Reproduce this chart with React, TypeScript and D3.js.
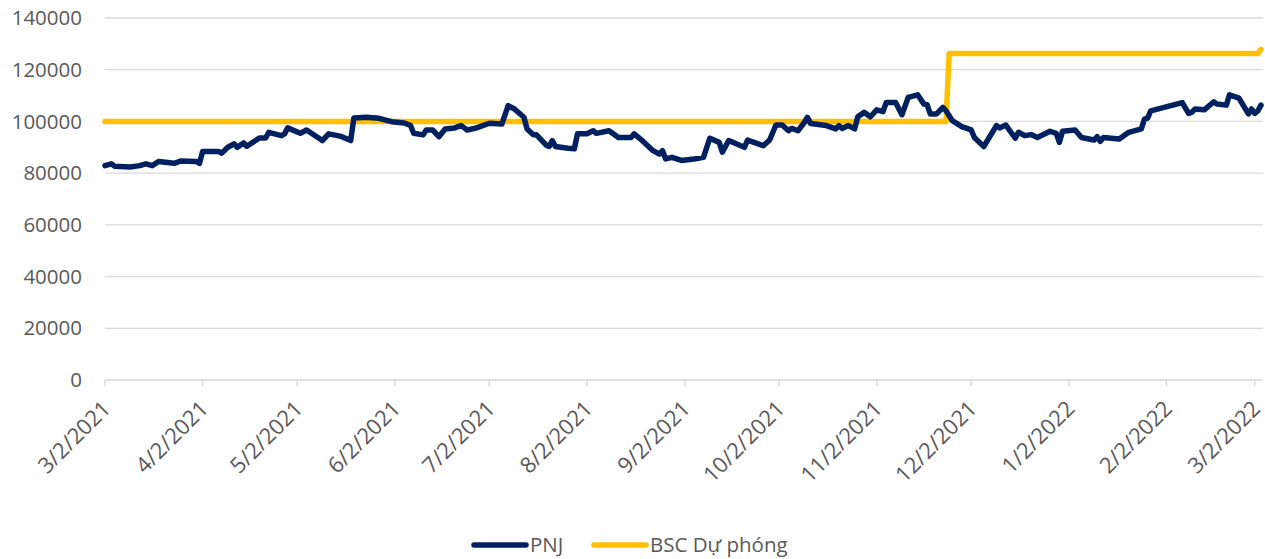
import React from "react";
import * as d3 from "d3";

const pnjDates: string[] = [
  "2021-03-02","2021-03-04","2021-03-05","2021-03-10","2021-03-13","2021-03-15","2021-03-17","2021-03-19","2021-03-24","2021-03-26",
  "2021-03-31","2021-04-01","2021-04-02","2021-04-07","2021-04-08","2021-04-10","2021-04-12","2021-04-13","2021-04-15","2021-04-16",
  "2021-04-20","2021-04-22","2021-04-23","2021-04-27","2021-04-28","2021-04-29","2021-05-03","2021-05-05","2021-05-10","2021-05-12",
  "2021-05-16","2021-05-19","2021-05-20","2021-05-24","2021-05-28","2021-06-01","2021-06-05","2021-06-07","2021-06-08","2021-06-11",
  "2021-06-12","2021-06-14","2021-06-16","2021-06-18","2021-06-21","2021-06-23","2021-06-25","2021-06-28","2021-07-02","2021-07-06",
  "2021-07-08","2021-07-10","2021-07-13","2021-07-14","2021-07-16","2021-07-17","2021-07-20","2021-07-21","2021-07-22","2021-07-23",
  "2021-07-27","2021-07-29","2021-07-30","2021-08-02","2021-08-04","2021-08-05","2021-08-09","2021-08-12","2021-08-16","2021-08-17",
  "2021-08-19","2021-08-23","2021-08-25","2021-08-26","2021-08-27","2021-08-29","2021-09-01","2021-09-05","2021-09-08","2021-09-10",
  "2021-09-13","2021-09-14","2021-09-16","2021-09-21","2021-09-22","2021-09-27","2021-09-29","2021-10-01","2021-10-03","2021-10-05",
  "2021-10-06","2021-10-08","2021-10-10","2021-10-11","2021-10-12","2021-10-17","2021-10-20","2021-10-21","2021-10-22","2021-10-24",
  "2021-10-26","2021-10-27","2021-10-29","2021-10-31","2021-11-02","2021-11-04","2021-11-05","2021-11-08","2021-11-10","2021-11-12",
  "2021-11-15","2021-11-17","2021-11-18","2021-11-19","2021-11-21","2021-11-23","2021-11-24","2021-11-26","2021-11-29","2021-12-02",
  "2021-12-03","2021-12-06","2021-12-10","2021-12-11","2021-12-13","2021-12-16","2021-12-17","2021-12-19","2021-12-21","2021-12-23",
  "2021-12-27","2021-12-29","2021-12-30","2021-12-31","2022-01-04","2022-01-06","2022-01-10","2022-01-11","2022-01-12","2022-01-13",
  "2022-01-18","2022-01-21","2022-01-25","2022-01-26","2022-01-27","2022-01-28","2022-02-07","2022-02-09","2022-02-10","2022-02-11",
  "2022-02-14","2022-02-17","2022-02-18","2022-02-21","2022-02-22","2022-02-25","2022-02-28","2022-03-01","2022-03-02","2022-03-03",
  "2022-03-04"
];

const pnjValues: number[] = [
  82900,83600,82700,82400,82900,83600,82900,84500,83800,84700,
  84500,83800,88400,88400,87700,90000,91300,90000,91700,90400,
  93600,93600,95800,94500,95200,97500,95400,96700,92600,95200,
  94200,92600,101300,101600,101200,99900,99400,98400,95400,94800,
  96700,96700,94100,97100,97500,98400,96700,97500,99300,99000,
  106100,104800,101600,97100,94800,94800,90900,90300,92600,90300,
  89600,89400,95200,95200,96400,95400,96400,93800,93800,95200,
  93200,88700,87400,88700,85500,86100,84900,85500,86100,93500,
  91900,88100,92600,90000,92800,90600,92800,98600,98600,96400,
  97300,96400,99600,101600,99200,98400,97100,98400,97300,98400,
  97100,101800,103500,101800,104500,103800,107300,107300,102600,109300,
  110300,106700,106500,102900,102900,105400,104100,100300,98000,96700,
  93800,90300,98400,97500,98600,93500,95800,94500,94900,93800,
  96200,95400,91900,96200,96700,93800,92800,94100,92300,93800,
  93200,95800,97100,100900,101300,104100,107300,103100,103500,104800,
  104500,107600,106700,106300,110300,109000,102900,104800,103100,104100,
  106300
];

const bscDates: string[] = ["2021-03-02", "2021-11-24", "2021-11-25", "2022-03-03", "2022-03-04"];
const bscValues: number[] = [100000, 100000, 126300, 126300, 127800];

const yTicks: number[] = [0, 20000, 40000, 60000, 80000, 100000, 120000, 140000];
const xTickDates: string[] = [
  "2021-03-02","2021-04-02","2021-05-02","2021-06-02","2021-07-02","2021-08-02","2021-09-02",
  "2021-10-02","2021-11-02","2021-12-02","2022-01-02","2022-02-02","2022-03-02"
];
const seriesNames: string[] = ["PNJ", "BSC Dự phóng"];

const parse = d3.utcParse("%Y-%m-%d");
const FONT = "'Open Sans', 'Noto Sans', sans-serif";
const TEXT = "#595959";
const GRID = "#D9D9D9";
const PNJ_COLOR = "#002060";
const BSC_COLOR = "#FFC000";

export default function App() {
  const width = 1265;
  const height = 559;
  const x = d3
    .scaleUtc()
    .domain([parse("2021-03-02")!, parse("2022-03-04")!])
    .range([105, 1261]);
  const y = d3.scaleLinear().domain([0, 140000]).range([380, 18]);

  const pnj = pnjDates.map((d, i) => ({ date: parse(d)!, value: pnjValues[i] }));
  const bsc = bscDates.map((d, i) => ({ date: parse(d)!, value: bscValues[i] }));
  const line = d3
    .line<{ date: Date; value: number }>()
    .x((d) => x(d.date))
    .y((d) => y(d.value));

  const fmt = (d: Date) => `${d.getUTCMonth() + 1}/${d.getUTCDate()}/${d.getUTCFullYear()}`;
  const [x0, x1] = x.range();

  return (
    <svg
      width={width}
      height={height}
      style={{ position: "absolute", left: 0, top: 0, background: "#fff" }}
      fontFamily={FONT}
    >
      {yTicks.map((t) =>
        t === 0 ? null : (
          <line key={"g" + t} x1={x0} x2={x1 + 2} y1={y(t)} y2={y(t)} stroke={GRID} strokeWidth={1.3} />
        )
      )}
      <line x1={x0} x2={x1 + 2} y1={y(0)} y2={y(0)} stroke={GRID} strokeWidth={1.5} />
      {xTickDates.map((s) => {
        const d = parse(s)!;
        const px = x(d);
        return (
          <g key={s}>
            <line x1={px} x2={px} y1={y(0)} y2={y(0) + 6} stroke={GRID} strokeWidth={1.5} />
            <text
              transform={`translate(${px + 7},${y(0) + 30}) rotate(-45)`}
              textAnchor="end"
              fontSize={22}
              fill={TEXT}
            >
              {fmt(d)}
            </text>
          </g>
        );
      })}
      {yTicks.map((t) => (
        <text key={"y" + t} x={82} y={y(t)} dy="0.35em" textAnchor="end" fontSize={20.5} fill={TEXT}>
          {t}
        </text>
      ))}
      <path
        d={line(bsc) || ""}
        fill="none"
        stroke={BSC_COLOR}
        strokeWidth={5.5}
        strokeLinejoin="round"
        strokeLinecap="round"
      />
      <path
        d={line(pnj) || ""}
        fill="none"
        stroke={PNJ_COLOR}
        strokeWidth={5.5}
        strokeLinejoin="round"
        strokeLinecap="round"
      />
      <g>
        <line x1={474} x2={526} y1={545} y2={545} stroke={PNJ_COLOR} strokeWidth={5.5} strokeLinecap="round" />
        <text x={530} y={545} dy="0.35em" fontSize={20.5} fill={TEXT}>
          {seriesNames[0]}
        </text>
        <line x1={594} x2={646} y1={545} y2={545} stroke={BSC_COLOR} strokeWidth={5.5} strokeLinecap="round" />
        <text x={650} y={545} dy="0.35em" fontSize={20.5} fill={TEXT}>
          {seriesNames[1]}
        </text>
      </g>
    </svg>
  );
}
